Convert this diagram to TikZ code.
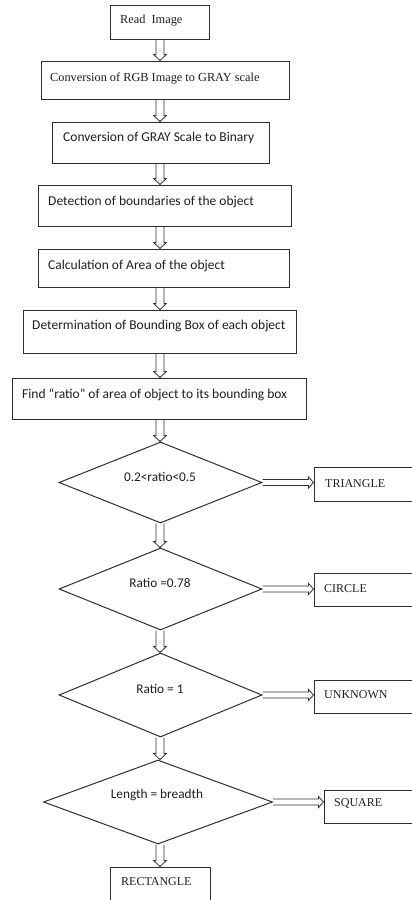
\documentclass[tikz,border=0pt]{standalone}
\usepackage{fontspec}
\setmainfont{Liberation Serif}
\newfontfamily\calfont{Carlito}
\usetikzlibrary{shapes.geometric,calc}
\definecolor{linec}{gray}{0.18}
\definecolor{textc}{gray}{0.12}
\tikzset{
  box/.style={draw=linec, line width=1pt, rectangle, inner sep=0pt},
  dia/.style={draw=linec, line width=1pt, diamond, inner sep=0pt},
  serift/.style={anchor=west, inner sep=0pt, text=textc, font=\fontsize{12.3}{14}\selectfont},
  capt/.style={anchor=west, inner sep=0pt, text=textc, font=\fontsize{12}{14}\selectfont},
  sanst/.style={anchor=west, inner sep=0pt, text=textc, font=\calfont\fontsize{13.5}{16}\selectfont},
  diat/.style={inner sep=0pt, text=textc, font=\calfont\fontsize{13.3}{16}\selectfont},
  arr/.style={draw=linec, line width=0.8pt, line join=miter}
}
\newcommand\dnarr[2]{\draw[arr] let \p1=(#1.south), \p2=(#2.north) in
  (156pt,\y1) -- (156pt,\y2+6pt) -- (153.7pt,\y2+6pt) -- (160pt,\y2)
  -- (166.3pt,\y2+6pt) -- (164pt,\y2+6pt) -- (164pt,\y1);}
\newcommand\rtarr[2]{\draw[arr] let \p1=(#1.east), \p2=(#2.west) in
  (\x1,\y1+3pt) -- (\x2-5pt,\y1+3pt) -- (\x2-5pt,\y1+5.5pt) -- (\x2,\y1)
  -- (\x2-5pt,\y1-5.5pt) -- (\x2-5pt,\y1-3pt) -- (\x1,\y1-3pt);}
\begin{document}
\begin{tikzpicture}[x=1pt,y=-1pt]
\useasboundingbox (0,0) rectangle (412,900);
% process boxes
\node[box, minimum width=99pt, minimum height=34pt] (b1) at (159.5,22) {};
\node[box, minimum width=248pt, minimum height=38pt] (b2) at (165,80) {};
\node[box, minimum width=217pt, minimum height=41pt] (b3) at (160.5,142.5) {};
\node[box, minimum width=253pt, minimum height=41pt] (b4) at (164.5,205.5) {};
\node[box, minimum width=251pt, minimum height=38pt] (b5) at (163.5,268) {};
\node[box, minimum width=273pt, minimum height=43pt] (b6) at (159.5,331.5) {};
\node[box, minimum width=294pt, minimum height=41pt] (b7) at (159,398.5) {};
% texts
\node[serift] (t1) at (120,21) {Read~~Image};
\node[serift] (t2) at (50,78) {Conversion of RGB Image to GRAY scale};
\node[sanst] (t3) at (63,138) {Conversion of GRAY Scale to Binary};
\node[sanst] (t4) at (48,202) {Detection of boundaries of the object};
\node[sanst] (t5) at (48,266) {Calculation of Area of the object};
\node[sanst] (t6) at (32,326) {Determination of Bounding Box of each object};
\node[sanst] (t7) at (22,395) {Find “ratio” of area of object to its bounding box};
% decisions
\node[dia, minimum width=203pt, minimum height=81pt] (d1) at (160.5,482.5) {};
\node[dia, minimum width=203pt, minimum height=82pt] (d2) at (160.5,589) {};
\node[dia, minimum width=203pt, minimum height=84pt] (d3) at (160.5,695) {};
\node[dia, minimum width=229pt, minimum height=84pt] (d4) at (158,802) {};
\node[diat] (dt1) at (160,477) {0.2<ratio<0.5};
\node[diat] (dt2) at (160,583) {Ratio =0.78};
\node[diat] (dt3) at (160,689) {Ratio = 1};
\node[diat] (dt4) at (157,795) {Length = breadth};
% outcome boxes
\node[box, minimum width=110pt, minimum height=34pt] (r1) at (369,484) {};
\node[box, minimum width=110pt, minimum height=33pt] (r2) at (369,589.5) {};
\node[box, minimum width=110pt, minimum height=33pt] (r3) at (369,696.5) {};
\node[box, minimum width=110pt, minimum height=33pt] (r4) at (379,806.5) {};
\node[box, minimum width=100pt, minimum height=43pt] (r5) at (160,888.5) {};
\node[capt] (rt1) at (325,484) {TRIANGLE};
\node[capt] (rt2) at (324,589) {CIRCLE};
\node[capt] (rt3) at (324,695) {UNKNOWN};
\node[capt] (rt4) at (334,803) {SQUARE};
\node[capt] (rt5) at (121,882) {RECTANGLE};
% vertical arrows
\dnarr{b1}{b2}
\dnarr{b2}{b3}
\dnarr{b3}{b4}
\dnarr{b4}{b5}
\dnarr{b5}{b6}
\dnarr{b6}{b7}
\dnarr{b7}{d1}
\dnarr{d1}{d2}
\dnarr{d2}{d3}
\dnarr{d3}{d4}
\dnarr{d4}{r5}
% horizontal arrows
\rtarr{d1}{r1}
\rtarr{d2}{r2}
\rtarr{d3}{r3}
\rtarr{d4}{r4}
\end{tikzpicture}
\end{document}
